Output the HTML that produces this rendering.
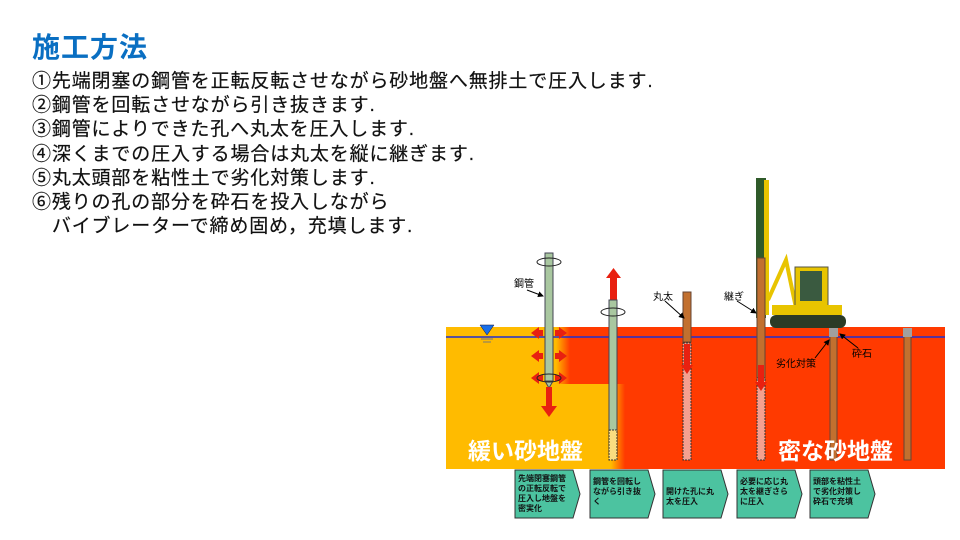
<!DOCTYPE html>
<html><head><meta charset="utf-8"><style>
body{margin:0;width:960px;height:540px;background:#fff;position:relative;overflow:hidden;font-family:"Liberation Sans","Noto Sans CJK JP",sans-serif}
.t{position:absolute;left:32px;top:33px;font-size:28px;font-weight:bold;color:#0a6fc2;line-height:30px;letter-spacing:1px}
.l{position:absolute;left:32px;font-size:19px;letter-spacing:0.85px;color:#111;line-height:22px;white-space:nowrap;-webkit-text-stroke:0.2px #111}
</style></head><body>
<div class="t">施工方法</div>
<div class="l" style="top:71px">①先端閉塞の鋼管を正転反転させながら砂地盤へ無排土で圧入します.</div>
<div class="l" style="top:95px">②鋼管を回転させながら引き抜きます.</div>
<div class="l" style="top:119px">③鋼管によりできた孔へ丸太を圧入します.</div>
<div class="l" style="top:144px">④深くまでの圧入する場合は丸太を縦に継ぎます.</div>
<div class="l" style="top:168px">⑤丸太頭部を粘性土で劣化対策します.</div>
<div class="l" style="top:192px">⑥残りの孔の部分を砕石を投入しながら</div>
<div class="l" style="top:216px">　バイブレーターで締め固め，充填します.</div>
<svg width="960" height="540" style="position:absolute;left:0;top:0" font-family="Liberation Sans,Noto Sans CJK JP,sans-serif">
<defs>
<linearGradient id="g1" x1="0" x2="1"><stop offset="0" stop-color="#ffbb00"/><stop offset="1" stop-color="#ff3a00"/></linearGradient>
<marker id="ar" markerWidth="6" markerHeight="6" refX="5" refY="3" orient="auto"><path d="M0,0L6,3L0,6z" fill="#000"/></marker>
</defs>
<rect x="446" y="327" width="499" height="142" fill="#ff3a00"/>
<rect x="446" y="327" width="110" height="142" fill="#ffbb00"/>
<rect x="556" y="327" width="14" height="57" fill="url(#g1)"/>
<rect x="556" y="384" width="55" height="85" fill="#ffbb00"/>
<rect x="611" y="384" width="14" height="85" fill="url(#g1)"/>
<line x1="446" y1="337" x2="945" y2="337" stroke="#2030d0" stroke-width="1.5"/>
<path d="M480 325h14l-7 10z" fill="#1a6fe8" stroke="#113" stroke-width="0.5"/>
<path d="M481 339h12M483 342h8" stroke="#777" stroke-width="1"/>
<!-- pile 1 -->
<rect x="545" y="253" width="8" height="128" fill="#a9c7a0" stroke="#445" stroke-width="1"/>
<path d="M545 381l4 7 4-7z" fill="#a9c7a0" stroke="#445"/>
<rect x="546" y="387" width="6" height="20" fill="#e82010"/><path d="M541 406h16l-8 11z" fill="#e82010"/>
<g fill="#e82010"><path d="M531 333l8-6v12z M539 330h4v6h-4z M567 333l-8-6v12z M555 330h4v6h-4z"/>
<path d="M531 356l8-6v12z M539 353h4v6h-4z M567 356l-8-6v12z M555 353h4v6h-4z"/>
<path d="M531 378l8-6v12z M539 375h4v6h-4z M567 378l-8-6v12z M555 375h4v6h-4z"/></g>
<ellipse cx="549" cy="262" rx="12" ry="4" fill="none" stroke="#222"/>
<ellipse cx="549" cy="378" rx="12" ry="4" fill="none" stroke="#222"/>
<text x="514" y="287" font-size="10">鋼管</text>
<line x1="527" y1="290" x2="543" y2="296" stroke="#000" marker-end="url(#ar)"/>
<!-- pile 2 -->
<rect x="610" y="277" width="7" height="25" fill="#e82010"/><path d="M606 278h15l-7.5-10z" fill="#e82010"/>
<rect x="609" y="300" width="8" height="155" fill="#a9c7a0" stroke="#445"/>
<rect x="609" y="430" width="8" height="30" fill="#f9dd80" stroke="#333" stroke-dasharray="2,1"/>
<ellipse cx="613" cy="312" rx="12" ry="4" fill="none" stroke="#222"/>
<!-- log 3 -->
<rect x="683" y="292" width="8" height="50" fill="#c2702f" stroke="#643"/>
<rect x="683" y="343" width="8" height="117" fill="#f4a090" stroke="#333" stroke-dasharray="2,1"/>
<rect x="684" y="344" width="6" height="22" fill="#e82010"/><path d="M681 365h12l-6 9z" fill="#e82010"/>
<text x="653" y="300" font-size="10">丸太</text>
<line x1="665" y1="301" x2="684" y2="318" stroke="#000" marker-end="url(#ar)"/>
<!-- machine -->
<rect x="756" y="178" width="10" height="140" fill="#2f5a2a"/>
<rect x="764" y="180" width="5" height="135" fill="#e8c400"/>
<rect x="757" y="258" width="8" height="120" fill="#c2702f" stroke="#643"/>
<rect x="757" y="378" width="8" height="82" fill="#f4a090" stroke="#333" stroke-dasharray="2,1"/>
<rect x="758" y="365" width="6" height="18" fill="#e82010"/><path d="M755 382h12l-6 9z" fill="#e82010"/>
<path d="M768 300l18-40 10 48" fill="none" stroke="#e8c400" stroke-width="4"/>
<rect x="795" y="267" width="33" height="48" fill="#e8c400" stroke="#554" stroke-width="1"/>
<rect x="800" y="271" width="22" height="30" fill="#3a5a40"/>
<rect x="772" y="305" width="70" height="10" fill="#e8c400"/>
<rect x="770" y="315" width="76" height="13" rx="6" fill="#2b3b26"/>
<text x="724" y="300" font-size="10">継ぎ</text>
<line x1="737" y1="301" x2="756" y2="313" stroke="#000" marker-end="url(#ar)"/>
<!-- posts -->
<rect x="830" y="330" width="7" height="130" fill="#c2702f" stroke="#643"/>
<rect x="829" y="328" width="9" height="9" fill="#a0a0a0"/>
<rect x="904" y="330" width="7" height="130" fill="#c2702f" stroke="#643"/>
<rect x="903" y="328" width="9" height="9" fill="#a0a0a0"/>
<text x="776" y="367" font-size="10">劣化対策</text>
<line x1="815" y1="358" x2="829" y2="340" stroke="#000" marker-end="url(#ar)"/>
<text x="852" y="357" font-size="10">砕石</text>
<line x1="858" y1="348" x2="840" y2="334" stroke="#000" marker-end="url(#ar)"/>
<text x="468" y="459" font-size="23" fill="#fff" font-weight="bold">緩い砂地盤</text>
<text x="778" y="459" font-size="23" fill="#fff" font-weight="bold">密な砂地盤</text>
<!-- boxes -->
<g stroke="#333" stroke-width="1" fill="#4cc3a0">
<path d="M515 470h58l7 24-7 24h-58z"/><path d="M590 470h58l7 24-7 24h-58z"/><path d="M663 470h58l7 24-7 24h-58z"/><path d="M737 470h58l7 24-7 24h-58z"/><path d="M810 470h58l7 24-7 24h-58z"/>
</g>
<g font-size="8" font-weight="bold" fill="#111">
<text x="518" y="481">先端閉塞鋼管</text><text x="518" y="491">の正転反転で</text><text x="518" y="501">圧入し地盤を</text><text x="518" y="511">密実化</text>
<text x="593" y="484">鋼管を回転し</text><text x="593" y="494">ながら引き抜</text><text x="593" y="504">く</text>
<text x="666" y="494">開けた孔に丸</text><text x="666" y="504">太を圧入</text>
<text x="740" y="484">必要に応じ丸</text><text x="740" y="494">太を継ぎさら</text><text x="740" y="504">に圧入</text>
<text x="813" y="484">頭部を粘性土</text><text x="813" y="494">で劣化対策し</text><text x="813" y="504">砕石で充填</text>
</g>
</svg>
</body></html>
